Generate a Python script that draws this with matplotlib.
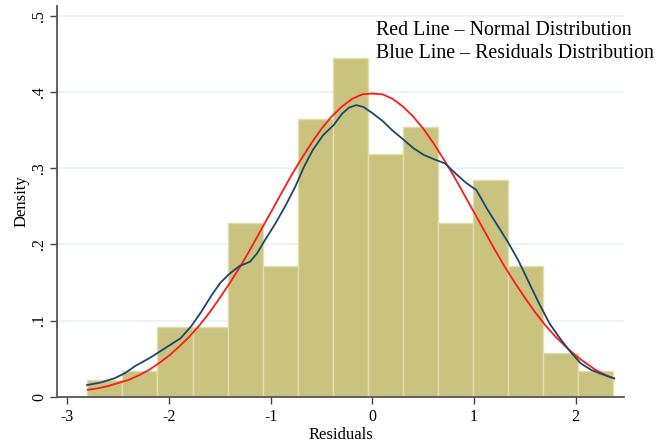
import numpy as np
import matplotlib
matplotlib.use('Agg')
import matplotlib.pyplot as plt

# 直方图（密度）
bin_left = -2.805
bin_width = 0.345
bar_density = [0.022, 0.034, 0.092, 0.092, 0.228, 0.171, 0.365, 0.445,
               0.319, 0.354, 0.228, 0.285, 0.171, 0.057, 0.034]

# 残差核密度曲线（蓝线）
kde_x = [-2.807, -2.677, -2.540, -2.437, -2.334, -2.197, -2.094, -1.991, -1.889,
         -1.786, -1.683, -1.581, -1.495, -1.409, -1.307, -1.204, -1.135, -1.067,
         -0.964, -0.861, -0.759, -0.673, -0.587, -0.485, -0.382, -0.296, -0.228,
         -0.159, -0.091, -0.005, 0.098, 0.201, 0.303, 0.406, 0.509, 0.612,
         0.714, 0.817, 0.920, 1.023, 1.125, 1.228, 1.331, 1.434, 1.536,
         1.639, 1.742, 1.845, 1.947, 2.050, 2.153, 2.255, 2.375]
kde_y = [0.0154, 0.0185, 0.0241, 0.0307, 0.0403, 0.0504, 0.0591, 0.0679, 0.0766,
         0.0920, 0.1116, 0.1335, 0.1497, 0.1611, 0.1716, 0.1772, 0.1882, 0.2035,
         0.2254, 0.2494, 0.2757, 0.3019, 0.3238, 0.3434, 0.3566, 0.3719, 0.3798,
         0.3828, 0.3806, 0.3728, 0.3623, 0.3491, 0.3378, 0.3260, 0.3172, 0.3115,
         0.3063, 0.2932, 0.2809, 0.2713, 0.2472, 0.2254, 0.2035, 0.1794, 0.1510,
         0.1226, 0.0963, 0.0766, 0.0591, 0.0438, 0.0351, 0.0298, 0.0241]

# 正态分布曲线（红线）
norm_x = [-2.8, -2.7, -2.6, -2.5, -2.4, -2.3, -2.2, -2.1, -2.0, -1.9, -1.8,
          -1.7, -1.6, -1.5, -1.4, -1.3, -1.2, -1.1, -1.0, -0.9, -0.8, -0.7,
          -0.6, -0.5, -0.4, -0.3, -0.2, -0.1, 0.0, 0.1, 0.2, 0.3, 0.4, 0.5,
          0.6, 0.7, 0.8, 0.9, 1.0, 1.1, 1.2, 1.3, 1.4, 1.5, 1.6, 1.7, 1.8,
          1.9, 2.0, 2.1, 2.2, 2.3, 2.38]
norm_y = [0.009, 0.011, 0.014, 0.018, 0.022, 0.028, 0.035, 0.044, 0.054,
          0.066, 0.079, 0.094, 0.111, 0.130, 0.150, 0.171, 0.194, 0.218,
          0.242, 0.266, 0.290, 0.312, 0.333, 0.352, 0.368, 0.381, 0.391,
          0.397, 0.398, 0.397, 0.391, 0.381, 0.368, 0.352, 0.333, 0.312,
          0.290, 0.266, 0.242, 0.218, 0.194, 0.171, 0.150, 0.130, 0.111,
          0.094, 0.079, 0.066, 0.054, 0.044, 0.035, 0.028, 0.024]

x_ticks = [-3, -2, -1, 0, 1, 2]
y_ticks = [0, 0.1, 0.2, 0.3, 0.4, 0.5]
y_ticklabels = ['0', '.1', '.2', '.3', '.4', '.5']

plt.rcParams['font.family'] = ['Liberation Serif', 'DejaVu Serif']

fig = plt.figure(figsize=(6.69, 4.43), dpi=100)
ax = fig.add_axes([0.0857, 0.1045, 0.847, 0.882])

# 网格线
for yv in y_ticks[1:]:
    ax.axhline(yv, color='#eaf2f3', lw=1.2, zorder=0)

lefts = [bin_left + i * bin_width for i in range(len(bar_density))]
ax.bar(lefts, bar_density, width=bin_width, align='edge',
       color='#c9c37f', edgecolor='#e2deab', linewidth=1.0, zorder=1)

ax.plot(norm_x, norm_y, color='#ff1a1a', lw=1.3, zorder=3)
ax.plot(kde_x, kde_y, color='#1a476f', lw=1.3, zorder=4)

ax.set_xlim(-3.10, 2.475)
ax.set_ylim(0, 0.513)

ax.set_xticks(x_ticks)
ax.set_xticklabels([str(v) for v in x_ticks])
ax.set_yticks(y_ticks)
ax.set_yticklabels(y_ticklabels, rotation=90, va='center')
ax.tick_params(axis='both', direction='out', length=5, width=1,
               color='#444444', labelsize=11.5)
ax.tick_params(axis='x', pad=4)
ax.tick_params(axis='y', pad=2.5)

for side in ['top', 'right']:
    ax.spines[side].set_visible(False)
for side in ['left', 'bottom']:
    ax.spines[side].set_color('#555555')
    ax.spines[side].set_linewidth(1.3)

ax.set_xlabel('Residuals', fontsize=12, labelpad=1)
ax.set_ylabel('Density', fontsize=12, labelpad=1)

fig.text(0.562, 0.921, 'Red Line \u2013 Normal Distribution', fontsize=14.3,
         va='baseline', ha='left')
fig.text(0.562, 0.868, 'Blue Line \u2013 Residuals Distribution', fontsize=14.3,
         va='baseline', ha='left')

fig.savefig('out.png', dpi=100)
